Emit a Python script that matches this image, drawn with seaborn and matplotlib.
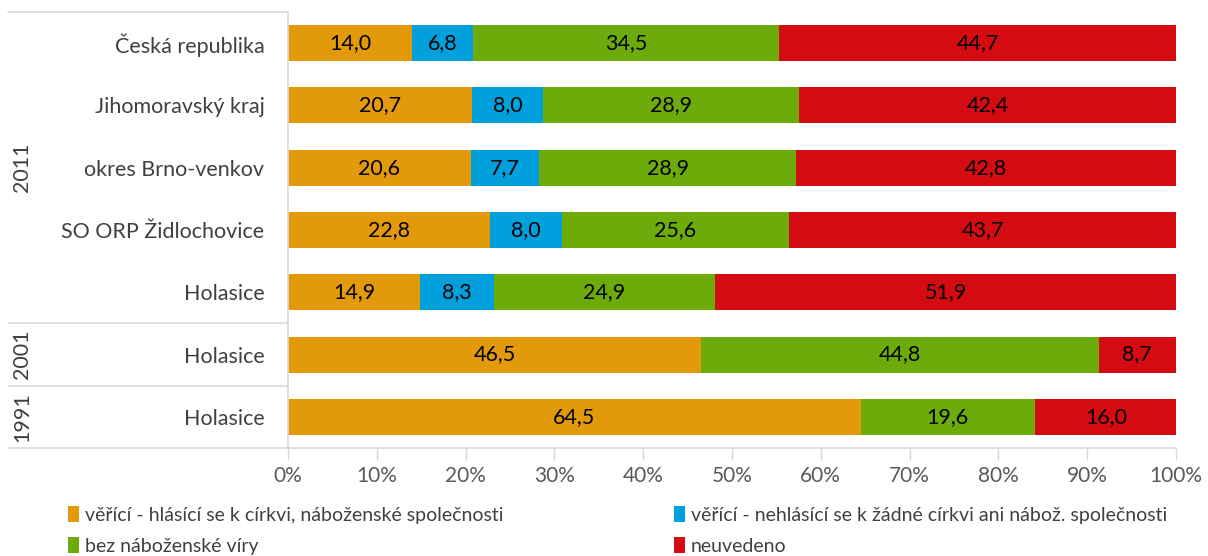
import numpy as np
import pandas as pd
import matplotlib
matplotlib.use("Agg")
import matplotlib.pyplot as plt
import matplotlib.transforms as mtransforms
from matplotlib.patches import Patch
import seaborn as sns

# data
years = ["2011", "2011", "2011", "2011", "2011", "2001", "1991"]
places = ["Česká republika", "Jihomoravský kraj", "okres Brno-venkov",
          "SO ORP Židlochovice", "Holasice", "Holasice", "Holasice"]
believers_church = [14.0, 20.7, 20.6, 22.8, 14.9, 46.5, 64.5]
believers_no_church = [6.8, 8.0, 7.7, 8.0, 8.3, 0.0, 0.0]
no_religion = [34.5, 28.9, 28.9, 25.6, 24.9, 44.8, 19.6]
not_stated = [44.7, 42.4, 42.8, 43.7, 51.9, 8.7, 16.0]

series_names = ["věřící - hlásící se k církvi, náboženské společnosti",
                "věřící - nehlásící se k žádné církvi ani nábož. společnosti",
                "bez náboženské víry",
                "neuvedeno"]
colors = ["#E29A0B", "#00A0DC", "#6DAB0B", "#D50B12"]

sns.set_theme(style="white")
plt.rcParams['font.family'] = ['Lato', 'DejaVu Sans']

row_ids = [f"{y}_{i}" for i, y in enumerate(years)]
df = pd.DataFrame({
    "row": row_ids,
    "s0": believers_church,
    "s1": believers_no_church,
    "s2": no_religion,
    "s3": not_stated,
})
cols = ["s0", "s1", "s2", "s3"]
cum = df[cols].cumsum(axis=1)

fig = plt.figure(figsize=(12.08, 5.56), dpi=100)
ax = fig.add_axes([288 / 1208, 1 - 448 / 556, 888 / 1208, 436 / 556])

# stacked bars: draw cumulative totals from the outermost segment inwards
for k in reversed(range(4)):
    sns.barplot(x=cum[cols[k]], y=df["row"], orient="h", order=row_ids,
                color=colors[k], saturation=1, width=0.58, linewidth=0, ax=ax)

# segment labels
for k in range(4):
    for i in range(len(row_ids)):
        v = df[cols[k]].iloc[i]
        if v <= 0:
            continue
        xc = cum[cols[k]].iloc[i] - v / 2
        ax.text(xc, i, f"{v:.1f}".replace(".", ","), ha="center", va="center",
                fontsize=15.5, color="black")

ax.set_xlim(0, 100)
ax.set_ylim(len(row_ids) - 0.5, -0.5)
ax.set_xticks(np.arange(0, 101, 10))
ax.set_xticklabels([f"{t}%" for t in range(0, 101, 10)], fontsize=15, color="#595959")
ax.set_yticks(range(len(row_ids)))
ax.set_yticklabels(places, fontsize=15.5, color="#404040")
ax.set_xlabel("")
ax.set_ylabel("")
ax.tick_params(axis="x", length=8.6, width=1, color="#D9D9D9", pad=4, direction="out", bottom=True)
ax.tick_params(axis="y", length=0, pad=17)

for side in ["top", "right"]:
    ax.spines[side].set_visible(False)
for side in ["left", "bottom"]:
    ax.spines[side].set_color("#D9D9D9")
    ax.spines[side].set_linewidth(1.2)

# year group labels and separators on the left
trans = mtransforms.blended_transform_factory(ax.transAxes, ax.transData)
x_left = (8 - 288) / 888
for yb in [-0.5, 4.5, 5.5, 6.5]:
    ax.plot([x_left, 0], [yb, yb], transform=trans, color="#D9D9D9", lw=1.2, clip_on=False)
groups = [("2011", 0, 4), ("2001", 5, 5), ("1991", 6, 6)]
for label, a, b in groups:
    ax.text((22 - 288) / 888, (a + b) / 2, label, transform=trans, rotation=90,
            ha="center", va="center", fontsize=15.5, color="#404040")

# legend
handles = [Patch(facecolor=c, edgecolor="none") for c in colors]
order = [0, 2, 1, 3]
fig.legend([handles[i] for i in order], [series_names[i] for i in order],
           ncol=2, loc="upper left", bbox_to_anchor=(68 / 1208, 1 - 506 / 556),
           frameon=False, fontsize=14, handlelength=0.55, handleheight=0.9,
           handletextpad=0.3, columnspacing=8.8, labelspacing=0.68,
           borderpad=0, borderaxespad=0, labelcolor="#404040")

fig.savefig("out.png", dpi=100)
